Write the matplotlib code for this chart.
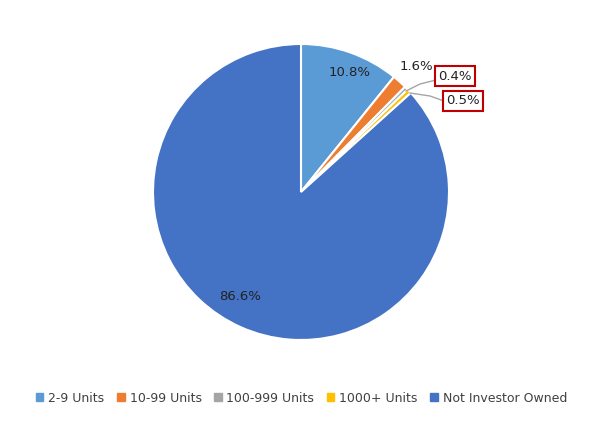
import matplotlib.pyplot as plt

categories = ["2-9 Units", "10-99 Units", "100-999 Units", "1000+ Units", "Not Investor Owned"]
shares = [10.8, 1.6, 0.4, 0.5, 86.6]
colors = ["#5b9bd5", "#ed7d31", "#a5a5a5", "#ffc000", "#4472c4"]

W, H = 603, 422
fig = plt.figure(figsize=(W / 100, H / 100), dpi=100)
ax = fig.add_axes([0, 0, 1, 1])


def Y(y):
    # screen pixel (from top) to data y (up)
    return H - y


cx, cy, r = 301, 192, 148
ax.pie(shares, colors=colors, startangle=90, counterclock=False,
       radius=r, center=(cx, Y(cy)),
       wedgeprops=dict(edgecolor="white", linewidth=1.5))
ax.set_aspect("equal")
ax.set_xlim(0, W)
ax.set_ylim(0, H)
ax.axis("off")

font = dict(fontsize=9.5, family="DejaVu Sans", color="#222222")
ax.text(350, Y(73), f"{shares[0]}%", ha="center", va="center", **font)
ax.text(416, Y(67), f"{shares[1]}%", ha="center", va="center", **font)
ax.text(240, Y(296), f"{shares[4]}%", ha="center", va="center", **font)

box = dict(boxstyle="square,pad=0.25", fc="white", ec="#c00000", lw=1.5)
ax.text(455, Y(76), f"{shares[2]}%", ha="center", va="center", bbox=box, **font)
ax.text(463, Y(101), f"{shares[3]}%", ha="center", va="center", bbox=box, **font)
ax.plot([436, 420, 406], [Y(80), Y(84), Y(91)], color="#a5a5a5", lw=1)
ax.plot([444, 430, 410], [Y(101), Y(96), Y(93)], color="#a5a5a5", lw=1)

handles = [plt.Rectangle((0, 0), 1, 1, color=c) for c in colors]
fig.legend(handles, categories, loc="center", bbox_to_anchor=(0.5, 1 - 398 / H),
           ncol=5, frameon=False, fontsize=9, handlelength=0.6, handleheight=0.6,
           columnspacing=1.0, handletextpad=0.4, labelcolor="#404040")

fig.savefig("out.png", dpi=100)
